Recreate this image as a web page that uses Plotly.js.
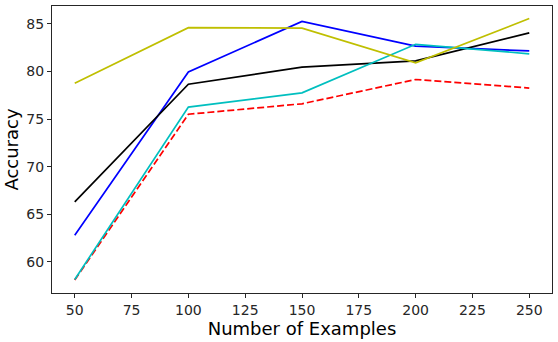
<!DOCTYPE html>
<html>
<head>
<meta charset="utf-8">
<script src="https://cdn.plot.ly/plotly-3.0.1.min.js"></script>
<style>
  html, body { margin: 0; padding: 0; background: #fff; }
  #chart { width: 558px; height: 342px; }
</style>
</head>
<body>
<div id="chart"></div>
<script>
// number of examples on the x axis
const numExamples = [50, 100, 150, 200, 250];

// accuracy per run
const accRed = [58.1, 75.5, 76.6, 79.15, 78.25];
const accBlue = [62.8, 79.95, 85.25, 82.65, 82.15];
const accBlack = [66.3, 78.65, 80.45, 81.1, 84.05];
const accCyan = [58.15, 76.25, 77.75, 82.85, 81.85];
const accYellow = [78.75, 84.6, 84.55, 80.9, 85.55];

function line(y, color, dash) {
    return {
        x: numExamples,
        y: y,
        type: 'scatter',
        mode: 'lines',
        line: { color: color, width: 1.7, dash: dash || 'solid' },
        showlegend: false,
        hoverinfo: 'skip',
    };
}

const chartData = [
    line(accRed, '#ff0000', '7px,3px'),
    line(accBlue, '#0000ff'),
    line(accBlack, '#000000'),
    line(accCyan, '#00bfbf'),
    line(accYellow, '#bfbf00'),
];

const axisStyle = {
    showgrid: false,
    zeroline: false,
    showline: true,
    mirror: true,
    linecolor: '#262626',
    linewidth: 1,
    ticks: 'outside',
    ticklen: 4,
    tickwidth: 1,
    tickcolor: '#262626',
    tickfont: { family: 'DejaVu Sans', size: 14, color: '#262626' },
};

const layout = {
    width: 558,
    height: 342,
    margin: { l: 52, r: 6, t: 6, b: 49 },
    paper_bgcolor: '#ffffff',
    plot_bgcolor: '#ffffff',
    xaxis: Object.assign({}, axisStyle, {
        range: [40, 260],
        tickvals: [50, 75, 100, 125, 150, 175, 200, 225, 250],
        title: { text: 'Number of Examples', font: { family: 'DejaVu Sans', size: 18, color: '#000' }, standoff: 4 },
    }),
    yaxis: Object.assign({}, axisStyle, {
        range: [56.73, 86.87],
        tickvals: [60, 65, 70, 75, 80, 85],
        title: { text: 'Accuracy', font: { family: 'DejaVu Sans', size: 18, color: '#000' }, standoff: 3 },
    }),
};

Plotly.newPlot('chart', chartData, layout, { displayModeBar: false, staticPlot: true });
</script>
</body>
</html>
